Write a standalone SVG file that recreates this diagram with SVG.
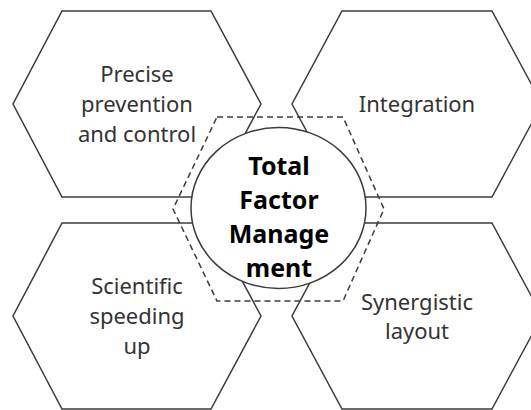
<svg xmlns="http://www.w3.org/2000/svg" width="531" height="410" viewBox="0 0 531 410">
  <style>
    .hex { fill: #ffffff; stroke: #3c3c3c; stroke-width: 1.5; stroke-linejoin: miter; }
    .ring { fill: none; stroke: #3c3c3c; stroke-width: 1.5; stroke-dasharray: 6 4; }
    .hub { fill: #ffffff; stroke: #3c3c3c; stroke-width: 1.5; }
    .lbl { font-family: "Noto Sans", "Open Sans", sans-serif; font-size: 22px; fill: #333333; text-anchor: middle; }
    .hub-lbl { font-family: "Noto Sans", "Open Sans", sans-serif; font-size: 25px; font-weight: bold; fill: #000000; text-anchor: middle; }
  </style>
  <rect width="531" height="410" fill="#ffffff"/>

  <g id="precise-prevention">
    <polygon class="hex" points="62,11 211,11 261,104 211,197 62,197 13,104"/>
    <text class="lbl" x="137" y="82">Precise</text>
    <text class="lbl" x="137" y="112">prevention</text>
    <text class="lbl" x="137" y="142">and control</text>
  </g>

  <g id="integration">
    <polygon class="hex" points="342,11 492,11 542,104 492,197 342,197 292,104"/>
    <text class="lbl" x="417" y="112">Integration</text>
  </g>

  <g id="scientific-speeding">
    <polygon class="hex" points="62,223 211,223 261,316 211,409 62,409 13,316"/>
    <text class="lbl" x="137" y="294">Scientific</text>
    <text class="lbl" x="137" y="324">speeding</text>
    <text class="lbl" x="137" y="354">up</text>
  </g>

  <g id="synergistic-layout">
    <polygon class="hex" points="342,223 492,223 542,316 492,409 342,409 292,316"/>
    <text class="lbl" x="417" y="310">Synergistic</text>
    <text class="lbl" x="417" y="339">layout</text>
  </g>

  <g id="connectors">
    <polygon class="ring" points="217,117 343,117 384,209 343,301 217,301 173,209"/>
  </g>

  <g id="total-factor-management">
    <ellipse class="hub" cx="278.5" cy="208" rx="87.5" ry="80.5"/>
    <text class="hub-lbl" x="279" y="175">Total</text>
    <text class="hub-lbl" x="279" y="209">Factor</text>
    <text class="hub-lbl" x="279" y="243">Manage</text>
    <text class="hub-lbl" x="279" y="277">ment</text>
  </g>
</svg>
